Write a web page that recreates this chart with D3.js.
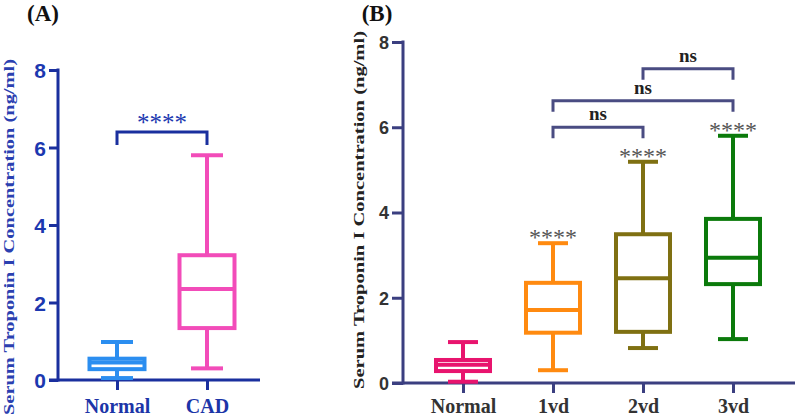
<!DOCTYPE html>
<html>
<head>
<meta charset="utf-8">
<script src="https://cdn.jsdelivr.net/npm/d3@7"></script>
<style>
  html, body { margin: 0; padding: 0; background: #fff; }
  svg { display: block; }
</style>
</head>
<body>
<svg id="chart" width="796" height="418"></svg>
<script>
// ---------- Data ----------
const yTicks = [0, 2, 4, 6, 8];

// Panel A
const catsA = ["Normal", "CAD"];
const minA = [0.05, 0.30];
const q1A = [0.28, 1.34];
const medA = [0.45, 2.35];
const q3A = [0.55, 3.22];
const maxA = [0.98, 5.80];
const colorsA = ["#2b8ef0", "#f24cb9"];
const sigA = [{ from: "Normal", to: "CAD", level: 6.4, label: "****" }];

// Panel B
const catsB = ["Normal", "1vd", "2vd", "3vd"];
const minB = [0.03, 0.30, 0.82, 1.03];
const q1B = [0.28, 1.18, 1.20, 2.32];
const medB = [0.43, 1.71, 2.46, 2.94];
const q3B = [0.54, 2.35, 3.49, 3.85];
const maxB = [0.96, 3.28, 5.19, 5.80];
const colorsB = ["#e8146e", "#ff8a10", "#7f7012", "#0b7a0b"];
const starsB = ["", "****", "****", "****"];
const sigB = [
  { from: "2vd", to: "3vd", level: 7.37, label: "ns" },
  { from: "1vd", to: "3vd", level: 6.62, label: "ns" },
  { from: "1vd", to: "2vd", level: 6.00, label: "ns" }
];

// ---------- Drawing ----------
const svg = d3.select("#chart");
const SERIF = "'Liberation Serif','Times New Roman',serif";
const SANS = "'Liberation Sans',Arial,sans-serif";

function panel(cfg) {
  const g = svg.append("g");
  const x = d3.scalePoint().domain(cfg.cats).range(cfg.xRange).padding(0.5);
  const y = d3.scaleLinear().domain([0, 8]).range(cfg.yRange);

  // y axis
  const yAxis = d3.axisLeft(y).tickValues(yTicks).tickSize(cfg.yTick).tickSizeOuter(0).tickPadding(3).tickFormat(d3.format("d"));
  const ya = g.append("g").attr("transform", `translate(${cfg.axisX},0)`).call(yAxis);
  ya.select(".domain").remove();
  ya.selectAll(".tick line").attr("stroke", cfg.axisColor).attr("stroke-width", 3);
  ya.selectAll(".tick text").attr("fill", cfg.tickColor).attr("font-family", SANS)
    .attr("font-weight", "bold").attr("font-size", cfg.tickFont).attr("dy", "0.36em");
  g.append("line").attr("x1", cfg.axisX).attr("x2", cfg.axisX)
    .attr("y1", y(8) - 1.5).attr("y2", y(0) + 1.5)
    .attr("stroke", cfg.axisColor).attr("stroke-width", 3);

  // x axis
  const xAxis = d3.axisBottom(x).tickSize(10).tickSizeOuter(0).tickPadding(12);
  const xa = g.append("g").attr("transform", `translate(0,${y(0)})`).call(xAxis);
  xa.select(".domain").remove();
  xa.selectAll(".tick line").attr("stroke", cfg.axisColor).attr("stroke-width", 3);
  xa.selectAll(".tick text").attr("fill", cfg.labelColor).attr("font-family", SERIF)
    .attr("font-weight", "bold").attr("font-size", 20).attr("y", 0).attr("dy", 413 - y(0));
  g.append("line").attr("x1", cfg.axisX - cfg.yTick).attr("x2", cfg.xEnd)
    .attr("y1", y(0)).attr("y2", y(0))
    .attr("stroke", cfg.axisColor).attr("stroke-width", 3);

  // boxes
  const data = cfg.cats.map((c, i) => ({
    c, min: cfg.min[i], q1: cfg.q1[i], med: cfg.med[i], q3: cfg.q3[i], max: cfg.max[i],
    color: cfg.colors[i], star: cfg.stars ? cfg.stars[i] : ""
  }));
  const bw = cfg.boxW, cw = cfg.capW, sw = 4;
  const bg = g.selectAll(".box").data(data).enter().append("g")
    .attr("stroke", d => d.color).attr("stroke-width", sw).attr("fill", "none");
  bg.append("line").attr("x1", d => x(d.c)).attr("x2", d => x(d.c))
    .attr("y1", d => y(d.max)).attr("y2", d => y(d.q3));
  bg.append("line").attr("x1", d => x(d.c)).attr("x2", d => x(d.c))
    .attr("y1", d => y(d.q1)).attr("y2", d => y(d.min));
  bg.append("line").attr("x1", d => x(d.c) - cw / 2).attr("x2", d => x(d.c) + cw / 2)
    .attr("y1", d => y(d.max)).attr("y2", d => y(d.max));
  bg.append("line").attr("x1", d => x(d.c) - cw / 2).attr("x2", d => x(d.c) + cw / 2)
    .attr("y1", d => y(d.min)).attr("y2", d => y(d.min));
  bg.append("rect").attr("x", d => x(d.c) - bw / 2).attr("width", bw)
    .attr("y", d => y(d.q3)).attr("height", d => y(d.q1) - y(d.q3)).attr("fill", "#fff");
  bg.append("line").attr("x1", d => x(d.c) - bw / 2).attr("x2", d => x(d.c) + bw / 2)
    .attr("y1", d => y(d.med)).attr("y2", d => y(d.med));

  // stars over boxes
  g.selectAll(".star").data(data.filter(d => d.star)).enter().append("text")
    .attr("x", d => x(d.c)).attr("y", d => y(d.max) + 2)
    .attr("text-anchor", "middle").attr("font-family", SERIF).attr("font-size", 24)
    .attr("fill", cfg.starColor).text(d => d.star);

  // significance brackets
  cfg.sig.forEach(s => {
    const x1 = x(s.from), x2 = x(s.to), yy = y(s.level);
    g.append("path").attr("d", `M${x1},${yy + cfg.leg}V${yy}H${x2}V${yy + cfg.leg}`)
      .attr("fill", "none").attr("stroke", cfg.bracketColor).attr("stroke-width", 3);
    const t = g.append("text").attr("x", (x1 + x2) / 2).attr("text-anchor", "middle")
      .attr("font-family", SERIF).attr("fill", cfg.sigColor).text(s.label);
    if (s.label === "ns") t.attr("y", yy - 7).attr("font-size", 19).attr("font-weight", "bold");
    else t.attr("y", yy - 1).attr("font-size", 25);
  });

  // y title
  g.append("text")
    .attr("transform", `translate(${cfg.titleX},${cfg.titleY}) rotate(-90)`)
    .attr("text-anchor", "middle").attr("font-family", SERIF).attr("font-weight", "bold")
    .attr("font-size", 15).attr("fill", cfg.titleColor)
    .attr("textLength", cfg.titleLen).attr("lengthAdjust", "spacingAndGlyphs")
    .text("Serum Troponin I Concentration (ng/ml)");

  // panel label
  g.append("text").attr("x", cfg.panelX).attr("y", 21).attr("text-anchor", "middle")
    .attr("font-family", SERIF).attr("font-weight", "bold").attr("font-size", 23)
    .attr("fill", "#111").text(cfg.panelLabel);
}

panel({
  cats: catsA, min: minA, q1: q1A, med: medA, q3: q3A, max: maxA, colors: colorsA,
  sig: sigA, xRange: [72, 252], yRange: [380, 70], axisX: 58, xEnd: 260, yTick: 9,
  axisColor: "#1a2f9e", tickColor: "#1c38b0", labelColor: "#1c35a8", tickFont: 21,
  boxW: 55, capW: 32, starColor: "#1c35a8", bracketColor: "#1a2f9e", sigColor: "#1c38b0", leg: 13,
  titleX: 14, titleY: 237, titleLen: 356, titleColor: "#2a40b0", panelX: 43, panelLabel: "(A)"
});

panel({
  cats: catsB, min: minB, q1: q1B, med: medB, q3: q3B, max: maxB, colors: colorsB,
  stars: starsB, sig: sigB, xRange: [418, 778], yRange: [383, 42], axisX: 403, xEnd: 795, yTick: 11,
  axisColor: "#3b3f80", tickColor: "#333", labelColor: "#333", tickFont: 18,
  boxW: 54, capW: 30, starColor: "#555", bracketColor: "#4a4c82", sigColor: "#222", leg: 11,
  titleX: 364, titleY: 210, titleLen: 358, titleColor: "#222", panelX: 377, panelLabel: "(B)"
});
</script>
</body>
</html>
